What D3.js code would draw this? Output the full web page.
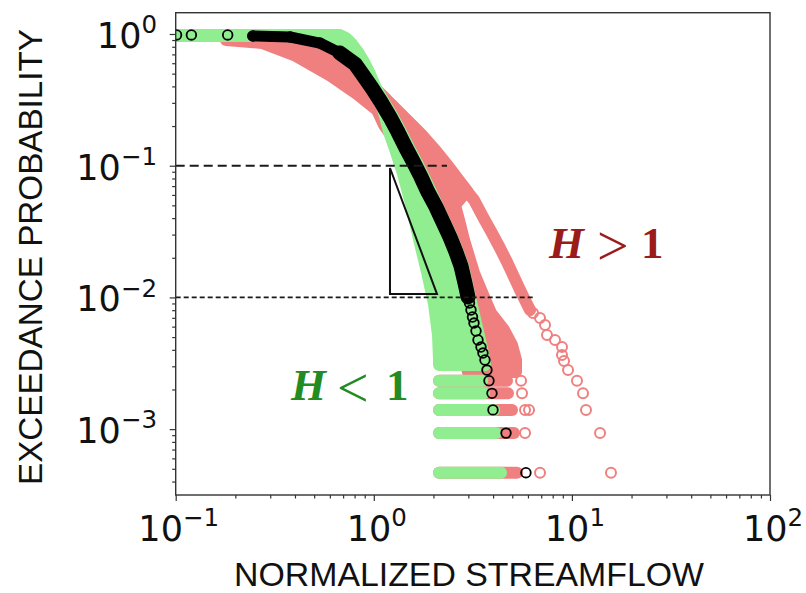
<!DOCTYPE html>
<html><head><meta charset="utf-8">
<script src="https://cdn.jsdelivr.net/npm/d3@7"></script>
<style>body{margin:0;background:#fff}svg{display:block}</style>
</head><body>
<svg id="chart" width="806" height="593"></svg>
<script>
// ---------------- DATA ----------------
// axis ticks
const xMajorTicks = [0.1, 1, 10, 100];
const xTickExponents = ["\u22121", "0", "1", "2"];
const yMajorTicks = [1, 0.1, 0.01, 0.001];
const yTickExponents = ["0", "\u22121", "\u22122", "\u22123"];

// H<1 (green) cloud: envelope of circle centres of the dense part [streamflow, exceedance prob]
const greenEnvelope = [
  [0.0914,0.9827],[0.6754,0.9827],[0.7239,0.9325],[0.7762,0.8397],[0.8324,0.7300],[0.8923,0.6129],
  [0.9568,0.4968],[1.0259,0.3890],[1.126,0.3046],[1.250,0.2343],[1.372,0.1803],[1.506,0.1363],
  [1.652,0.1048],[1.792,0.0821],[1.944,0.0631],[2.109,0.0486],[2.288,0.0374],[2.482,0.0287],
  [2.661,0.0221],[2.820,0.0173],[2.954,0.01286],[3.059,0.01007],[3.168,0.00802],[3.280,0.00639],
  [3.436,0.00475],[3.559,0.00378],[3.642,0.00307],[2.134,0.00307],[2.134,0.00335],[2.109,0.00518],
  [2.013,0.00891],[1.856,0.01559],[1.691,0.0277],[1.541,0.0512],[1.405,0.0865],[1.279,0.1339],
  [1.193,0.1803],[1.113,0.2695],[0.979,0.4101],[0.872,0.5715],[0.758,0.7829],[0.601,0.9325],
  [0.424,0.9656],[0.0914,0.9656]
];
// H>1 (red) cloud: envelope of the dense part
const redEnvelope = [
  [0.1794,0.9004],[0.2726,0.8543],[0.4048,0.6807],[0.6081,0.4799],[0.8227,0.3503],[1.038,0.2648],
  [1.126,0.2037],[1.325,0.1436],[1.559,0.0779],[1.856,0.0387],[2.184,0.0192],[2.425,0.01007],
  [2.630,0.00566],[2.989,0.00271],[5.223,0.00271],[5.223,0.00335],[4.987,0.00435],[4.544,0.00566],
  [3.906,0.00761],[3.600,0.01007],[3.205,0.01532],[2.854,0.0273],[2.692,0.0387],[2.570,0.0503],
  [2.954,0.0643],[2.661,0.0793],[2.369,0.0995],[2.061,0.1293],[1.731,0.1740],[1.454,0.2262],
  [1.221,0.2941],[1.026,0.3823],[0.872,0.5329],[0.741,0.7829],[0.637,0.9325],[0.424,0.9325],[0.188,0.9325]
];
// H>1 outer (largest) curve: dense part and sparse tail points
const redOuterDense = [
  [2.920,0.0654],[3.205,0.0549],[3.559,0.0408],[3.951,0.0308],[4.337,0.0237],[4.703,0.01857],
  [5.103,0.01429],[5.473,0.01138],[5.799,0.00955],[6.145,0.00802]
];
const redOuterTail = [
  [6.365,0.00761],[6.902,0.00698],[7.316,0.00617],[7.488,0.00518],[8.218,0.00475],[8.913,0.00420],
  [8.913,0.00365],[9.124,0.00329],[9.559,0.00281],[10.61,0.00233],[11.38,0.00187],[11.78,0.0014],
  [13.87,0.000933],[15.75,0.000467]
];
// discrete probability levels of the lowest rows (k/N)
const rowProb = [0.000467, 0.000933, 0.0014, 0.00187, 0.00233];
const rowStart = [2.134, 2.134, 2.134, 2.134, 2.134];
const greenRowEnd = [4.39, 4.14, 4.05, 3.60, 3.52];
const redRowEnd = [5.284, 5.103, 4.987, 4.758, 4.703];
const redRowExtra = [[6.902,0.000467],[5.799,0.000933],[5.799,0.0014],[6.075,0.0014],[5.600,0.00187],[5.536,0.00233]];

// observed record (black circles)
const blackPoints = [
  [0.101,0.983],[0.120,0.983],[0.183,0.983],
  [0.245,0.966],[0.378,0.949],[0.534,0.854],[0.674,0.717],[0.804,0.592],[0.882,0.488],[0.979,0.389],
  [1.087,0.305],[1.207,0.234],[1.325,0.180],[1.454,0.136],[1.595,0.1048],[1.731,0.0821],[1.877,0.0631],
  [2.061,0.0486],[2.235,0.0374],[2.424,0.0287],[2.600,0.0221],[2.755,0.0173],[2.886,0.01286],[2.989,0.01007],
  [3.041,0.00907],[3.095,0.00802],[3.149,0.00710],[3.204,0.00639],[3.280,0.00556],[3.357,0.00475],
  [3.476,0.0042],[3.556,0.00378],[3.640,0.00335],[3.726,0.00281],[3.815,0.00233],[3.950,0.00187],
  [3.996,0.0014],[4.650,0.000933],[5.860,0.000467]
];

// guide lines and slope triangle
const refLevels = [0.1, 0.01];
const refEnds = [2.342, 6.36];
const slopeTriangle = [[1.207,0.0961],[1.207,0.01061],[2.085,0.01061]];

// ---------------- DRAWING ----------------
const L = 175.7, R = 770, T = 12.7, B = 495;
const x = d3.scaleLog().domain([0.1, 100]).range([L, R]);
const y = d3.scaleLog().domain([3.162e-4, 1.451]).range([B, T]);
const GREEN = "#90ee90", RED = "#f08080";

const svg = d3.select("#chart");
svg.append("defs").append("clipPath").attr("id", "clip")
  .append("rect").attr("x", L).attr("y", T).attr("width", R - L).attr("height", B - T);
const plot = svg.append("g").attr("clip-path", "url(#clip)");
const line = d3.line().x(d => x(d[0])).y(d => y(d[1]));

function band(data, color) {
  plot.append("path").attr("d", line(data) + "Z")
    .attr("fill", color).attr("stroke", color).attr("stroke-width", 12).attr("stroke-linejoin", "round");
}
function rows(ends, color) {
  plot.append("g").selectAll("line").data(rowProb).join("line")
    .attr("x1", (d, i) => x(rowStart[i])).attr("x2", (d, i) => x(ends[i]))
    .attr("y1", d => y(d)).attr("y2", d => y(d))
    .attr("stroke", color).attr("stroke-width", 12).attr("stroke-linecap", "round");
}
function circles(data, color, r, sw) {
  plot.append("g").selectAll("circle").data(data).join("circle")
    .attr("cx", d => x(d[0])).attr("cy", d => y(d[1])).attr("r", r)
    .attr("fill", "none").attr("stroke", color).attr("stroke-width", sw);
}

// red (H>1)
band(redEnvelope, RED);
plot.append("path").attr("d", line(redOuterDense)).attr("fill", "none").attr("stroke", RED)
  .attr("stroke-width", 12).attr("stroke-linecap", "round").attr("stroke-linejoin", "round");
rows(redRowEnd, RED);
circles(redOuterTail, RED, 5, 2);
circles(redRowExtra, RED, 5, 2);
// green (H<1)
band(greenEnvelope, GREEN);
rows(greenRowEnd, GREEN);
// black observed: dense run drawn as a band of overlapping circles
const denseBlack = blackPoints.filter(d => d[0] > 0.2 && d[1] >= 0.01);
plot.append("path").attr("d", line(denseBlack)).attr("fill", "none").attr("stroke", "#000")
  .attr("stroke-width", 11).attr("stroke-linecap", "round").attr("stroke-linejoin", "round");
plot.append("path").attr("d", line(denseBlack.filter(d => d[1] < 0.75))).attr("fill", "none").attr("stroke", "#000")
  .attr("stroke-width", 15).attr("stroke-linecap", "round").attr("stroke-linejoin", "round");
circles(blackPoints, "#000", 4.8, 1.8);

// dashed guides
svg.append("g").selectAll("line").data(refLevels).join("line")
  .attr("x1", x(0.1)).attr("x2", (d, i) => x(refEnds[i]))
  .attr("y1", d => y(d)).attr("y2", d => y(d))
  .attr("stroke", "#1a1a1a")
  .attr("stroke-width", (d, i) => i === 0 ? 2 : 1.6)
  .attr("stroke-dasharray", (d, i) => i === 0 ? "9,5" : "5,3");
// slope triangle
svg.append("path").attr("d", line(slopeTriangle) + "Z")
  .attr("fill", "none").attr("stroke", "#111").attr("stroke-width", 2);

// axes (ticks from d3 axes)
const decadesX = [0.1, 1, 10], decadesY = [0.0001, 0.001, 0.01, 0.1];
const xMinor = [], yMinor = [];
decadesX.forEach(d => { for (let m = 2; m <= 9; m++) xMinor.push(d * m); });
decadesY.forEach(d => { for (let m = 2; m <= 9; m++) { const v = d * m; if (v > 3.162e-4 && v < 1.451) yMinor.push(v); } });

function styleAxis(g) {
  g.select(".domain").remove();
  g.selectAll("line").attr("stroke", "#333").attr("stroke-width", 1.2);
}
svg.append("g").attr("transform", `translate(0,${B})`)
  .call(d3.axisBottom(x).tickValues(xMinor).tickSize(3.5).tickFormat("")).call(styleAxis);
svg.append("g").attr("transform", `translate(0,${B})`)
  .call(d3.axisBottom(x).tickValues(xMajorTicks).tickSize(6).tickFormat("")).call(styleAxis);
svg.append("g").attr("transform", `translate(${L},0)`)
  .call(d3.axisLeft(y).tickValues(yMinor).tickSize(3.5).tickFormat("")).call(styleAxis);
svg.append("g").attr("transform", `translate(${L},0)`)
  .call(d3.axisLeft(y).tickValues(yMajorTicks).tickSize(6).tickFormat("")).call(styleAxis);

// frame
svg.append("rect").attr("x", L).attr("y", T).attr("width", R - L).attr("height", B - T)
  .attr("fill", "none").attr("stroke", "#333").attr("stroke-width", 1.4);

// tick labels 10^n
const FS = 35;
function powerLabel(g, exp, anchor) {
  g.attr("font-family", "DejaVu Sans").attr("fill", "#111").attr("text-anchor", anchor);
  g.append("tspan").attr("font-size", FS).text("10");
  g.append("tspan").attr("font-size", FS * 0.7).attr("dy", -FS * 0.42).text(exp);
}
xMajorTicks.forEach((v, i) => {
  const t = svg.append("text").attr("x", x(v) + 3).attr("y", 541);
  powerLabel(t, xTickExponents[i], "middle");
});
yMajorTicks.forEach((v, i) => {
  const t = svg.append("text").attr("x", 157).attr("y", y(v) + 14);
  powerLabel(t, yTickExponents[i], "end");
});

// axis titles
svg.append("text").attr("x", 469).attr("y", 586).attr("text-anchor", "middle")
  .attr("font-family", "Liberation Sans").attr("font-size", 33).attr("fill", "#111")
  .attr("textLength", 470).attr("lengthAdjust", "spacingAndGlyphs")
  .text("NORMALIZED STREAMFLOW");
svg.append("text").attr("transform", "translate(42,257) rotate(-90)").attr("text-anchor", "middle")
  .attr("font-family", "Liberation Sans").attr("font-size", 33).attr("fill", "#111")
  .attr("textLength", 456).attr("lengthAdjust", "spacingAndGlyphs")
  .text("EXCEEDANCE PROBABILITY");

// annotations
function hLabel(x0, yb, sym, color, xs) {
  const t = svg.append("text").attr("fill", color).attr("font-family", "Liberation Serif");
  t.append("tspan").attr("x", x0).attr("y", yb).attr("font-size", 45).attr("font-weight", "bold").attr("font-style", "italic").text("H");
  t.append("tspan").attr("x", xs[0]).attr("y", yb + 7).attr("font-size", 56).text(sym);
  t.append("tspan").attr("x", xs[1]).attr("y", yb).attr("font-size", 45).attr("font-weight", "bold").text("1");
}
hLabel(549, 258, ">", "#9b1a1a", [597, 641]);
hLabel(291, 400, "<", "#238b23", [337, 386]);
</script>
</body></html>
